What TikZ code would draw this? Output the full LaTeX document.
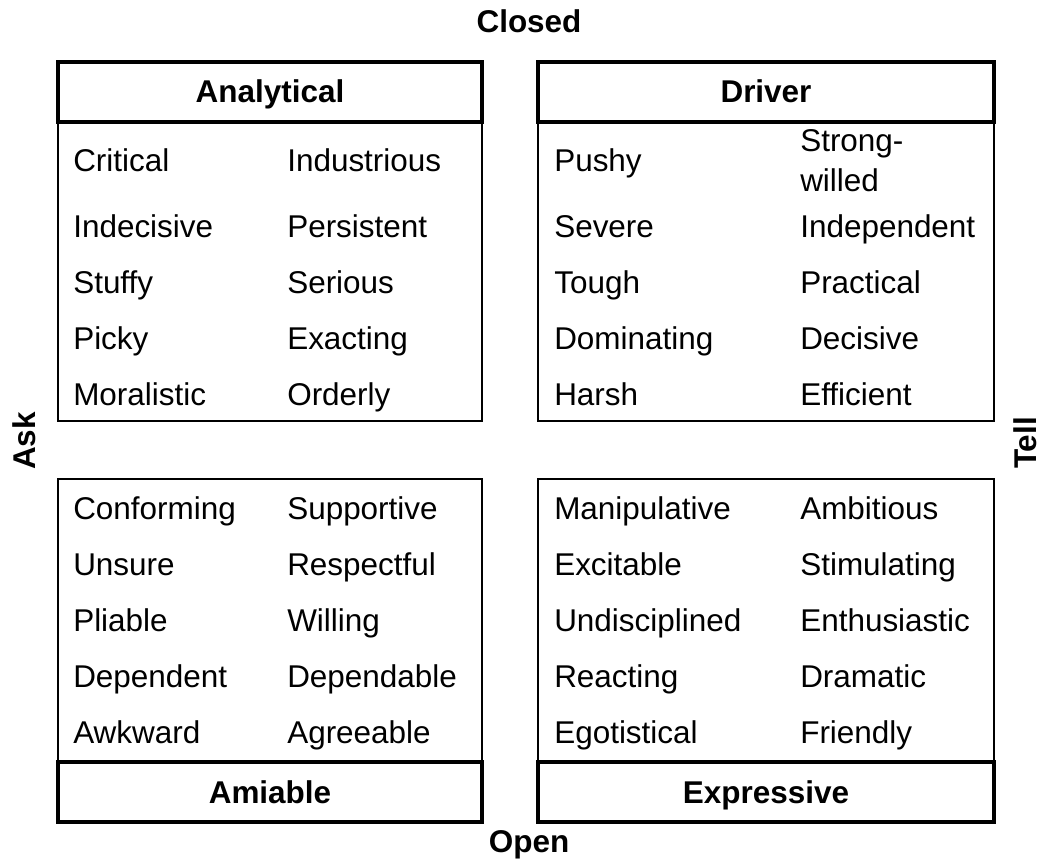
\documentclass[tikz,border=0pt]{standalone}
\usepackage{fontspec}
\setmainfont{Liberation Sans}
\usetikzlibrary{positioning}

\begin{document}
\begin{tikzpicture}[x=0.75pt, y=-0.75pt,
    panel/.style={draw, rectangle, line width=0.9pt, inner sep=0pt, outer sep=0pt},
    title/.style={draw, rectangle, line width=2.6pt, inner sep=0pt, outer sep=0pt,
        minimum height=45pt, text height=20pt, text depth=3.5pt,
        font=\bfseries\fontsize{23.6}{28}\selectfont},
    word/.style={anchor=base west, inner sep=0pt, font=\fontsize{23.6}{30}\selectfont},
    axis/.style={inner sep=0pt, font=\bfseries\fontsize{23.6}{28}\selectfont}]

    \useasboundingbox (0,0) rectangle (1041,859);

    % Quadrant panels
    \node (analyticalbox) [panel, minimum width=318pt, minimum height=224.25pt] at (270,271.5) {};
    \node (driverbox) [panel, minimum width=342pt, minimum height=224.25pt] at (766,271.5) {};
    \node (amiablebox) [panel, minimum width=318pt, minimum height=212.25pt] at (270,620.5) {};
    \node (expressivebox) [panel, minimum width=342pt, minimum height=212.25pt] at (766,620.5) {};

    % Titles sitting on the panels
    \node (analytical) [title, minimum width=318pt, above=0pt of analyticalbox] {Analytical};
    \node (driver) [title, minimum width=342pt, above=0pt of driverbox] {Driver};
    \node (amiable) [title, minimum width=318pt, below=0pt of amiablebox] {Amiable};
    \node (expressive) [title, minimum width=342pt, below=0pt of expressivebox] {Expressive};

    % Axis labels
    \node (closed) [axis, anchor=base] at (529,33) {Closed};
    \node (open) [axis, anchor=base] at (529,852) {Open};
    \node (ask) [axis, rotate=90] at (24,441) {Ask};
    \node (tell) [axis, rotate=90] at (1025,443) {Tell};

    % Analytical traits
    \foreach \a/\b/\y [count=\i] in {Critical/Industrious/172, Indecisive/Persistent/238,
        Stuffy/Serious/293, Picky/Exacting/349, Moralistic/Orderly/405} {
        \node (ana-a\i) [word] at (73,\y) {\a};
        \node (ana-b\i) [word] at (287,\y) {\b};
    }

    % Driver traits
    \node (drv-a1) [word] at (554,172) {Pushy};
    \node (drv-b1) [word, anchor=west, align=left] at (800,161) {Strong-\\willed};
    \foreach \a/\b/\y [count=\i from 2] in {Severe/Independent/238, Tough/Practical/293,
        Dominating/Decisive/349, Harsh/Efficient/405} {
        \node (drv-a\i) [word] at (554,\y) {\a};
        \node (drv-b\i) [word] at (800,\y) {\b};
    }

    % Amiable traits
    \foreach \a/\b/\y [count=\i] in {Conforming/Supportive/519, Unsure/Respectful/575,
        Pliable/Willing/631, Dependent/Dependable/687, Awkward/Agreeable/743} {
        \node (ami-a\i) [word] at (73,\y) {\a};
        \node (ami-b\i) [word] at (287,\y) {\b};
    }

    % Expressive traits
    \foreach \a/\b/\y [count=\i] in {Manipulative/Ambitious/519, Excitable/Stimulating/575,
        Undisciplined/Enthusiastic/631, Reacting/Dramatic/687, Egotistical/Friendly/743} {
        \node (exp-a\i) [word] at (554,\y) {\a};
        \node (exp-b\i) [word] at (800,\y) {\b};
    }

\end{tikzpicture}
\end{document}
